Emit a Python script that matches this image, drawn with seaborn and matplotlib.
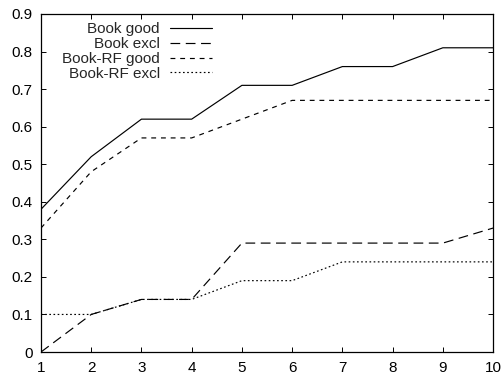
import numpy as np
import pandas as pd
import matplotlib
matplotlib.use("Agg")
import matplotlib.pyplot as plt
import seaborn as sns
from matplotlib.ticker import FuncFormatter

# values
ranks = [1, 2, 3, 4, 5, 6, 7, 8, 9, 10]
book_good = [0.38, 0.52, 0.62, 0.62, 0.71, 0.71, 0.76, 0.76, 0.81, 0.81]
book_excl = [0.00, 0.10, 0.14, 0.14, 0.29, 0.29, 0.29, 0.29, 0.29, 0.33]
rf_good = [0.33, 0.48, 0.57, 0.57, 0.62, 0.67, 0.67, 0.67, 0.67, 0.67]
rf_excl = [0.10, 0.10, 0.14, 0.14, 0.19, 0.19, 0.24, 0.24, 0.24, 0.24]
series_names = ["Book good", "Book excl", "Book-RF good", "Book-RF excl"]
y_ticks = [0, 0.1, 0.2, 0.3, 0.4, 0.5, 0.6, 0.7, 0.8, 0.9]

sns.set_style("ticks")
plt.rcParams['font.family'] = ['Liberation Sans', 'DejaVu Sans']
plt.rcParams['lines.scale_dashes'] = False

df = pd.concat([
    pd.DataFrame({"rank": ranks, "value": vals, "series": name})
    for name, vals in zip(series_names, [book_good, book_excl, rf_good, rf_excl])
])

dash_styles = {
    "Book good": "",
    "Book excl": (7, 4),
    "Book-RF good": (3.5, 3.5),
    "Book-RF excl": (1.2, 1.8),
}

fig = plt.figure(figsize=(5.04, 3.75), dpi=100)
ax = fig.add_axes([0.0813, 0.0613, 0.897, 0.9014])

sns.lineplot(data=df, x="rank", y="value", hue="series", style="series",
             hue_order=series_names, style_order=series_names,
             palette=["black"] * 4, dashes=dash_styles, linewidth=0.85,
             ax=ax, legend=False)

ax.set_xlim(1, 10)
ax.set_ylim(0, 0.9)
ax.set_xticks(ranks)
ax.set_yticks(y_ticks)
ax.yaxis.set_major_formatter(FuncFormatter(lambda v, p: f"{v:g}"))
ax.set_xlabel("")
ax.set_ylabel("")

for s in ax.spines.values():
    s.set_visible(True)
    s.set_linewidth(0.9)
    s.set_color("black")
ax.tick_params(direction="in", length=3.5, width=0.7, top=True, right=True,
               labelsize=11, colors="black")
ax.tick_params(axis="y", pad=6)
ax.tick_params(axis="x", pad=6.5)

handles = ax.get_lines()[:4]
leg = ax.legend(handles, series_names, loc="upper right", bbox_to_anchor=(0.378, 0.975),
                frameon=False, markerfirst=False, fontsize=11, handlelength=2.75,
                labelspacing=0.05, handletextpad=0.65, borderaxespad=0, borderpad=0)

fig.savefig("out.png", dpi=100)
